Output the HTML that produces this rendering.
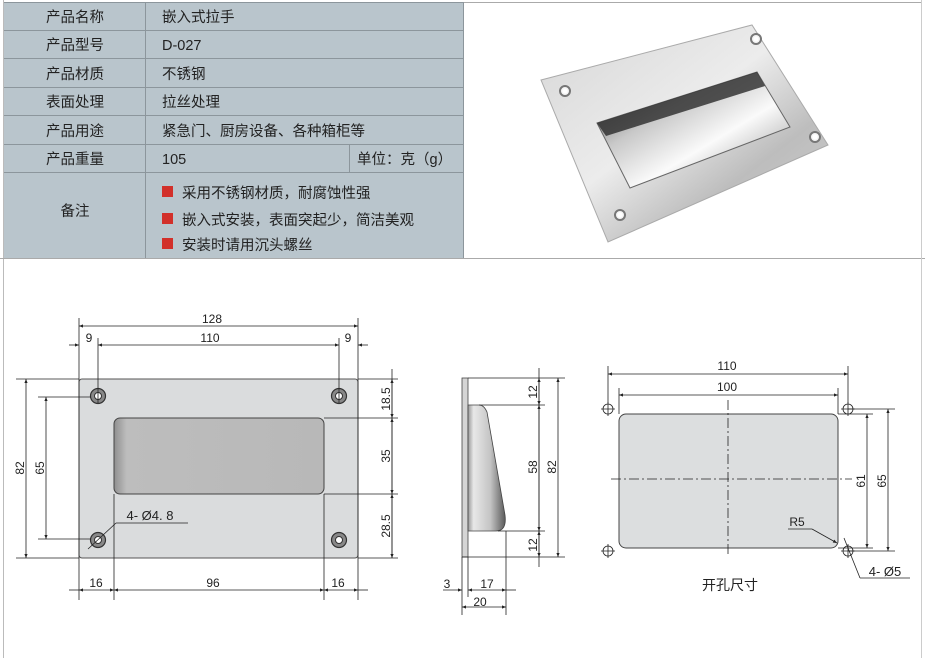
<!DOCTYPE html>
<html><head><meta charset="utf-8"><style>
html,body{margin:0;padding:0;background:#fff;}
svg{display:block;}
text{font-family:"Liberation Sans","Noto Sans CJK SC",sans-serif;}
</style></head><body>
<svg width="925" height="662" viewBox="0 0 925 662" xmlns="http://www.w3.org/2000/svg">
<defs>
<marker id="a" viewBox="0 0 10 10" refX="10" refY="5" markerWidth="7" markerHeight="5" orient="auto-start-reverse"><path d="M0,1 L10,5 L0,9 z" fill="#222"/></marker>
<linearGradient id="plate" x1="0" y1="0" x2="1" y2="1">
<stop offset="0" stop-color="#d6d6d6"/><stop offset="0.45" stop-color="#ececec"/><stop offset="0.7" stop-color="#bdbdbd"/><stop offset="1" stop-color="#d0d0d0"/></linearGradient>
<linearGradient id="win" x1="0" y1="0" x2="1" y2="1">
<stop offset="0" stop-color="#444"/><stop offset="0.35" stop-color="#c8c8c8"/><stop offset="0.6" stop-color="#fafafa"/><stop offset="1" stop-color="#8a8a8a"/></linearGradient>
<linearGradient id="pocket" x1="0" y1="0" x2="1" y2="0">
<stop offset="0" stop-color="#8f8f8f"/><stop offset="0.06" stop-color="#bdbdbd"/><stop offset="1" stop-color="#b8b8b8"/></linearGradient>
<linearGradient id="side" x1="0" y1="0" x2="1" y2="0">
<stop offset="0" stop-color="#999"/><stop offset="0.15" stop-color="#e8e8e8"/><stop offset="0.6" stop-color="#c4c4c4"/><stop offset="1" stop-color="#5a5a5a"/></linearGradient>
</defs>

<line x1="3.5" y1="0" x2="3.5" y2="658" stroke="#bbb"/>
<line x1="0" y1="258.5" x2="925" y2="258.5" stroke="#aaa"/>
<line x1="921.5" y1="0" x2="921.5" y2="658" stroke="#ccc"/>
<line x1="463" y1="2.5" x2="921" y2="2.5" stroke="#aaa"/>

<rect x="4" y="2" width="459" height="256" fill="#b9c5cc"/>
<g stroke="#8c969c" stroke-width="1">
<line x1="4" y1="2.5" x2="463" y2="2.5"/>
<line x1="4" y1="30.5" x2="463" y2="30.5"/>
<line x1="4" y1="58.5" x2="463" y2="58.5"/>
<line x1="4" y1="87.5" x2="463" y2="87.5"/>
<line x1="4" y1="115.5" x2="463" y2="115.5"/>
<line x1="4" y1="144.5" x2="463" y2="144.5"/>
<line x1="4" y1="172.5" x2="463" y2="172.5"/>
<line x1="145.5" y1="2" x2="145.5" y2="258"/>
<line x1="349.5" y1="144" x2="349.5" y2="172"/>
<line x1="463.5" y1="2" x2="463.5" y2="258"/>
</g>
<g font-size="14.5" fill="#222">
<text x="75" y="22" text-anchor="middle">产品名称</text>
<text x="75" y="50" text-anchor="middle">产品型号</text>
<text x="75" y="79" text-anchor="middle">产品材质</text>
<text x="75" y="107" text-anchor="middle">表面处理</text>
<text x="75" y="136" text-anchor="middle">产品用途</text>
<text x="75" y="164" text-anchor="middle">产品重量</text>
<text x="75" y="216" text-anchor="middle">备注</text>
<text x="162" y="22">嵌入式拉手</text>
<text x="162" y="50">D-027</text>
<text x="162" y="79">不锈钢</text>
<text x="162" y="107">拉丝处理</text>
<text x="162" y="136">紧急门、厨房设备、各种箱柜等</text>
<text x="162" y="164">105</text>
<text x="357" y="164">单位：克（g）</text>
<text x="182" y="198">采用不锈钢材质，耐腐蚀性强</text>
<text x="182" y="225">嵌入式安装，表面突起少，简洁美观</text>
<text x="182" y="250">安装时请用沉头螺丝</text>
</g>
<rect x="162" y="186" width="11" height="11" fill="#d2302a"/>
<rect x="162" y="213" width="11" height="11" fill="#d2302a"/>
<rect x="162" y="238" width="11" height="11" fill="#d2302a"/>

<polygon points="541,80 752,25 828,145 608,242" fill="url(#plate)" stroke="#aaa"/>
<polygon points="597,123 757,72 790,127 630,188" fill="url(#win)" stroke="#666"/>
<polygon points="597,123 757,72 765,86 606,136" fill="#2a2a2a" opacity="0.8"/>
<g fill="#f5f5f5" stroke="#777" stroke-width="2">
<circle cx="565" cy="91" r="5"/><circle cx="756" cy="39" r="5"/><circle cx="815" cy="137" r="5"/><circle cx="620" cy="215" r="5"/>
</g>
<g fill="#fff"><circle cx="565" cy="91" r="2.5"/><circle cx="756" cy="39" r="2.5"/><circle cx="815" cy="137" r="2.5"/><circle cx="620" cy="215" r="2.5"/></g>

<rect x="79" y="379" width="279" height="179" rx="3" fill="#dadcdd" stroke="#555"/>
<rect x="114" y="418" width="210" height="76" rx="6" fill="url(#pocket)" stroke="#444"/>
<g stroke="#333" fill="#888" stroke-width="1.2">
<circle cx="98" cy="396" r="7.5"/><circle cx="339" cy="396" r="7.5"/><circle cx="98" cy="540" r="7.5"/><circle cx="339" cy="540" r="7.5"/>
</g>
<g fill="#fff" stroke="#333"><circle cx="98" cy="396" r="3.5"/><circle cx="339" cy="396" r="3.5"/><circle cx="98" cy="540" r="3.5"/><circle cx="339" cy="540" r="3.5"/></g>
<g stroke="#222" stroke-width="0.8" fill="none">
<line x1="79" y1="318" x2="79" y2="600"/><line x1="358" y1="318" x2="358" y2="600"/>
<line x1="98" y1="338" x2="98" y2="403"/><line x1="339" y1="338" x2="339" y2="403"/>
<line x1="114" y1="494" x2="114" y2="600"/><line x1="324" y1="494" x2="324" y2="600"/>
<line x1="79" y1="326" x2="358" y2="326" marker-start="url(#a)" marker-end="url(#a)"/>
<line x1="98" y1="345" x2="339" y2="345" marker-start="url(#a)" marker-end="url(#a)"/>
<line x1="69" y1="345" x2="79" y2="345" marker-end="url(#a)"/>
<line x1="368" y1="345" x2="358" y2="345" marker-end="url(#a)"/>
<line x1="16" y1="379" x2="79" y2="379"/><line x1="16" y1="558" x2="79" y2="558"/>
<line x1="38" y1="397" x2="91" y2="397"/><line x1="38" y1="539" x2="91" y2="539"/>
<line x1="26" y1="379" x2="26" y2="558" marker-start="url(#a)" marker-end="url(#a)"/>
<line x1="46" y1="397" x2="46" y2="539" marker-start="url(#a)" marker-end="url(#a)"/>
<line x1="358" y1="379" x2="398" y2="379"/><line x1="324" y1="418" x2="398" y2="418"/>
<line x1="324" y1="494" x2="398" y2="494"/><line x1="358" y1="558" x2="398" y2="558"/>
<line x1="392" y1="369" x2="392" y2="558"/>
<line x1="392" y1="400" x2="392" y2="379" marker-end="url(#a)"/>
<line x1="392" y1="400" x2="392" y2="418" marker-end="url(#a)"/>
<line x1="392" y1="456" x2="392" y2="418" marker-end="url(#a)"/>
<line x1="392" y1="456" x2="392" y2="494" marker-end="url(#a)"/>
<line x1="392" y1="526" x2="392" y2="494" marker-end="url(#a)"/>
<line x1="392" y1="526" x2="392" y2="558" marker-end="url(#a)"/>
<line x1="79" y1="590" x2="114" y2="590" marker-start="url(#a)" marker-end="url(#a)"/>
<line x1="114" y1="590" x2="324" y2="590" marker-start="url(#a)" marker-end="url(#a)"/>
<line x1="324" y1="590" x2="358" y2="590" marker-start="url(#a)" marker-end="url(#a)"/>
<line x1="69" y1="590" x2="79" y2="590"/><line x1="358" y1="590" x2="368" y2="590"/>
<line x1="88" y1="549" x2="116" y2="523"/><line x1="116" y1="523" x2="188" y2="523"/>
</g>
<g font-size="12" fill="#222" text-anchor="middle">
<text x="212" y="323">128</text>
<text x="210" y="342">110</text>
<text x="89" y="342">9</text><text x="348" y="342">9</text>
<text x="96" y="587">16</text><text x="213" y="587">96</text><text x="338" y="587">16</text>
<text transform="translate(24,468) rotate(-90)">82</text>
<text transform="translate(44,468) rotate(-90)">65</text>
<text transform="translate(390,399) rotate(-90)">18.5</text>
<text transform="translate(390,456) rotate(-90)">35</text>
<text transform="translate(390,526) rotate(-90)">28.5</text>
<text x="150" y="520" font-size="13">4- Ø4. 8</text>
</g>

<rect x="462" y="378" width="6" height="179" fill="#d5d5d5" stroke="#444" stroke-width="0.8"/>
<path d="M468,405 L479,405 Q484,405 487,412 L505,515 Q507,531 496,531 L468,531 Z" fill="url(#side)" stroke="#444" stroke-width="0.8"/>
<g stroke="#222" stroke-width="0.8" fill="none">
<line x1="468" y1="378" x2="565" y2="378"/><line x1="479" y1="405" x2="545" y2="405"/>
<line x1="498" y1="531" x2="545" y2="531"/><line x1="462" y1="557" x2="565" y2="557"/>
<line x1="539" y1="368" x2="539" y2="567"/>
<line x1="539" y1="392" x2="539" y2="378" marker-end="url(#a)"/>
<line x1="539" y1="392" x2="539" y2="405" marker-end="url(#a)"/>
<line x1="539" y1="468" x2="539" y2="405" marker-end="url(#a)"/>
<line x1="539" y1="468" x2="539" y2="531" marker-end="url(#a)"/>
<line x1="539" y1="544" x2="539" y2="531" marker-end="url(#a)"/>
<line x1="539" y1="544" x2="539" y2="557" marker-end="url(#a)"/>
<line x1="558" y1="378" x2="558" y2="557" marker-start="url(#a)" marker-end="url(#a)"/>
<line x1="462" y1="557" x2="462" y2="615"/><line x1="468" y1="557" x2="468" y2="597"/>
<line x1="506" y1="531" x2="506" y2="615"/>
<line x1="443" y1="590" x2="462" y2="590" marker-end="url(#a)"/>
<line x1="468" y1="590" x2="506" y2="590" marker-start="url(#a)" marker-end="url(#a)"/>
<line x1="506" y1="590" x2="516" y2="590"/>
<line x1="462" y1="607" x2="506" y2="607" marker-start="url(#a)" marker-end="url(#a)"/>
</g>
<g font-size="12" fill="#222" text-anchor="middle">
<text transform="translate(537,392) rotate(-90)">12</text>
<text transform="translate(537,467) rotate(-90)">58</text>
<text transform="translate(537,545) rotate(-90)">12</text>
<text transform="translate(556,467) rotate(-90)">82</text>
<text x="447" y="588">3</text><text x="487" y="588">17</text><text x="480" y="606">20</text>
</g>

<rect x="619" y="414" width="219" height="134" rx="7" fill="#dcdedf" stroke="#444"/>
<g stroke="#222" stroke-width="0.8" fill="none">
<circle cx="608" cy="409" r="5"/><circle cx="848" cy="409" r="5"/><circle cx="608" cy="551" r="5"/><circle cx="848" cy="551" r="5"/>
<path d="M601,409h14M608,402v14M841,409h14M848,402v14M601,551h14M608,544v14M841,551h14M848,544v14"/>
<line x1="728" y1="400" x2="728" y2="557" stroke-dasharray="10,3,2,3"/>
<line x1="611" y1="479" x2="852" y2="479" stroke-dasharray="10,3,2,3"/>
<line x1="608" y1="366" x2="608" y2="403"/><line x1="848" y1="366" x2="848" y2="403"/>
<line x1="619" y1="388" x2="619" y2="414"/><line x1="838" y1="388" x2="838" y2="414"/>
<line x1="608" y1="374" x2="848" y2="374" marker-start="url(#a)" marker-end="url(#a)"/>
<line x1="619" y1="395" x2="838" y2="395" marker-start="url(#a)" marker-end="url(#a)"/>
<line x1="838" y1="414" x2="873" y2="414"/><line x1="838" y1="548" x2="873" y2="548"/>
<line x1="848" y1="409" x2="895" y2="409"/><line x1="848" y1="551" x2="895" y2="551"/>
<line x1="867" y1="414" x2="867" y2="548" marker-start="url(#a)" marker-end="url(#a)"/>
<line x1="888" y1="409" x2="888" y2="551" marker-start="url(#a)" marker-end="url(#a)"/>
<line x1="788" y1="529" x2="812" y2="529"/><line x1="812" y1="529" x2="837" y2="543" marker-end="url(#a)"/>
<line x1="844" y1="538" x2="860" y2="578"/><line x1="860" y1="578" x2="910" y2="578"/>
</g>
<g font-size="12" fill="#222" text-anchor="middle">
<text x="727" y="370">110</text><text x="727" y="391">100</text>
<text transform="translate(865,481) rotate(-90)">61</text>
<text transform="translate(886,481) rotate(-90)">65</text>
<text x="797" y="526">R5</text>
<text x="885" y="576" font-size="13">4- Ø5</text>
<text x="730" y="590" font-size="14">开孔尺寸</text>
</g>
</svg>
</body></html>
